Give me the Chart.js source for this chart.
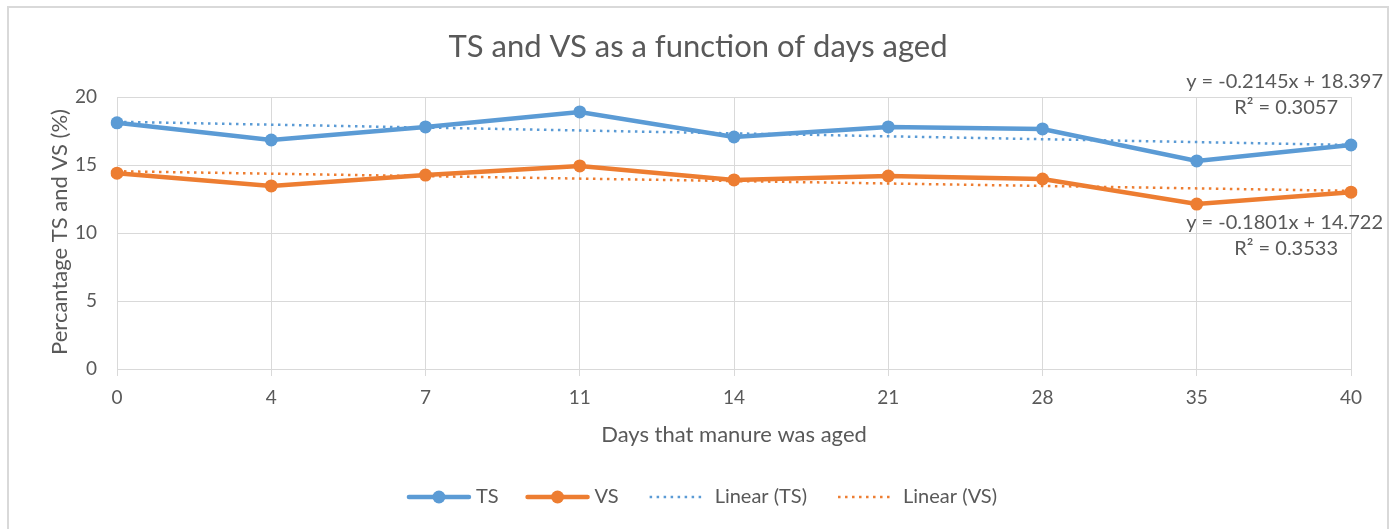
<!DOCTYPE html>
<html>
<head>
<meta charset="utf-8">
<script src="https://cdn.jsdelivr.net/npm/chart.js@4.4.1/dist/chart.umd.min.js"></script>
<style>
  html, body { margin: 0; padding: 0; background: #ffffff; }
  #wrap { position: relative; width: 1396px; height: 529px; overflow: hidden; }
  #frame { position: absolute; left: 7px; top: 6px; width: 1382px; height: 600px;
           border: 2px solid #d9d9d9; box-sizing: border-box; }
  canvas { position: absolute; left: 0; top: 0; }
</style>
</head>
<body>
<div id="wrap">
  <div id="frame"></div>
  <canvas id="c" width="1396" height="529"></canvas>
</div>
<script>
// ---- data ----
const categories = ["0", "4", "7", "11", "14", "21", "28", "35", "40"];
const tsValues   = [18.1, 16.84, 17.8, 18.9, 17.06, 17.8, 17.65, 15.3, 16.47];
const vsValues   = [14.4, 13.46, 14.26, 14.93, 13.9, 14.19, 13.97, 12.13, 13.0];
// linear trendlines: start and end values, straight line between them
const tsTrend    = [18.18, null, null, null, null, null, null, null, 16.47];
const vsTrend    = [14.54, null, null, null, null, null, null, null, 13.10];
const yTicks     = [0, 5, 10, 15, 20];
const titleText  = "TS and VS as a function of days aged";
const xTitleText = "Days that manure was aged";
const yTitleText = "Percantage TS and VS (%)";
const tsEquation = ["y = -0.2145x + 18.397", "R² = 0.3057"];
const vsEquation = ["y = -0.1801x + 14.722", "R² = 0.3533"];
const legendLabels = ["TS", "VS", "Linear (TS)", "Linear (VS)"];

const BLUE = "#5b9bd5", ORANGE = "#ed7d31", GREY = "#595959", GRID = "#d9d9d9";
const FONT = "Lato, Carlito, 'Open Sans', sans-serif";

const overlay = {
  id: "overlay",
  afterDraw(chart) {
    const ctx = chart.ctx;
    const ca = chart.chartArea;
    ctx.save();
    ctx.fillStyle = GREY;
    // title
    ctx.font = "31px " + FONT;
    ctx.textAlign = "center";
    ctx.textBaseline = "middle";
    ctx.fillText(titleText, 698, 47);
    // axis titles
    ctx.font = "22px " + FONT;
    ctx.fillText(xTitleText, (ca.left + ca.right) / 2, 435);
    ctx.save();
    ctx.translate(60, 232);
    ctx.rotate(-Math.PI / 2);
    ctx.fillText(yTitleText, 0, 0);
    ctx.restore();
    // trendline equations
    ctx.font = "20px " + FONT;
    ctx.textAlign = "right";
    ctx.fillText(tsEquation[0], 1383, 82);
    ctx.fillText(tsEquation[1], 1338, 108);
    ctx.fillText(vsEquation[0], 1383, 223);
    ctx.fillText(vsEquation[1], 1338, 249);
    // legend
    ctx.font = "20px " + FONT;
    ctx.textAlign = "left";
    const symW = 64, gapText = 5, gapItem = 27;
    const colors = [BLUE, ORANGE, BLUE, ORANGE];
    const widths = legendLabels.map(t => symW + gapText + ctx.measureText(t).width);
    const total = widths.reduce((a, b) => a + b, 0) + gapItem * (legendLabels.length - 1);
    let x = 702 - total / 2;
    const ly = 497;
    legendLabels.forEach((t, i) => {
      ctx.strokeStyle = colors[i];
      ctx.fillStyle = colors[i];
      if (i < 2) {
        ctx.lineWidth = 4.5; ctx.lineCap = "round"; ctx.setLineDash([]);
        ctx.beginPath(); ctx.moveTo(x + 2, ly); ctx.lineTo(x + symW - 2, ly); ctx.stroke();
        ctx.beginPath(); ctx.arc(x + symW / 2, ly, 6.5, 0, Math.PI * 2); ctx.fill();
      } else {
        ctx.lineWidth = 2.5; ctx.lineCap = "butt"; ctx.setLineDash([2.5, 4.5]);
        ctx.beginPath(); ctx.moveTo(x + 4, ly); ctx.lineTo(x + symW - 4, ly); ctx.stroke();
        ctx.setLineDash([]);
      }
      ctx.fillStyle = GREY;
      ctx.fillText(t, x + symW + gapText, ly);
      x += widths[i] + gapItem;
    });
    ctx.restore();
  }
};

new Chart(document.getElementById("c"), {
  type: "line",
  data: {
    labels: categories,
    datasets: [
      { label: "TS", data: tsValues, borderColor: BLUE, backgroundColor: BLUE,
        borderWidth: 4.5, pointRadius: 6.5, pointHoverRadius: 6.5, pointBorderWidth: 0,
        tension: 0, order: 1 },
      { label: "VS", data: vsValues, borderColor: ORANGE, backgroundColor: ORANGE,
        borderWidth: 4.5, pointRadius: 6.5, pointHoverRadius: 6.5, pointBorderWidth: 0,
        tension: 0, order: 2 },
      { label: "Linear (TS)", data: tsTrend, borderColor: BLUE, borderWidth: 2.5,
        borderDash: [2.5, 4.5], pointRadius: 0, spanGaps: true, tension: 0, order: 3 },
      { label: "Linear (VS)", data: vsTrend, borderColor: ORANGE, borderWidth: 2.5,
        borderDash: [2.5, 4.5], pointRadius: 0, spanGaps: true, tension: 0, order: 4 }
    ]
  },
  options: {
    responsive: false,
    animation: false,
    layout: { padding: { left: 0, top: 97, right: 45, bottom: 0 } },
    plugins: { legend: { display: false }, title: { display: false }, tooltip: { enabled: false } },
    scales: {
      x: {
        offset: false,
        grid: { color: GRID, lineWidth: 1, drawTicks: true, tickLength: 7, tickColor: GRID },
        border: { color: GRID, width: 1 },
        ticks: { color: GREY, font: { family: FONT, size: 19 }, padding: 10, maxRotation: 0, autoSkip: false },
        afterFit(scale) { scale.height = 160; }
      },
      y: {
        min: 0, max: 20,
        afterBuildTicks(scale) { scale.ticks = yTicks.map(v => ({ value: v })); },
        grid: { color: GRID, lineWidth: 1, drawTicks: false },
        border: { display: false },
        ticks: { color: GREY, font: { family: FONT, size: 19 }, padding: 20 },
        afterFit(scale) { scale.width = 117; }
      }
    }
  },
  plugins: [overlay]
});
</script>
</body>
</html>
